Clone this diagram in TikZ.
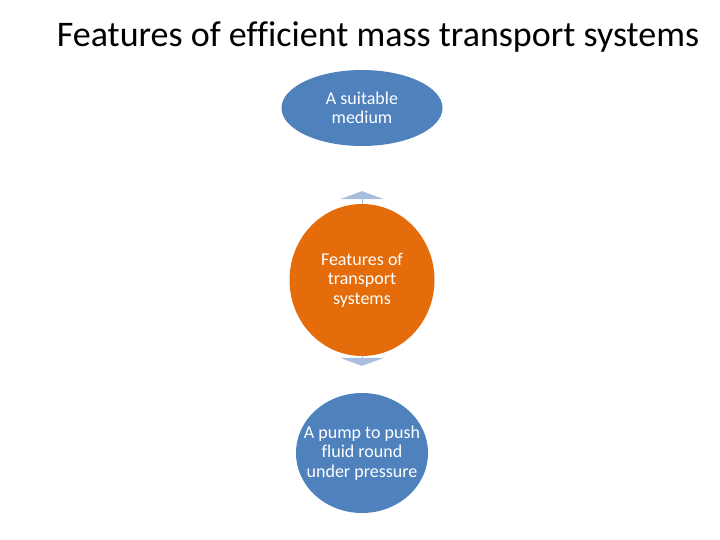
\documentclass[tikz,border=0pt]{standalone}
\usepackage{fontspec}
\setmainfont{Carlito}[Ligatures=NoCommon]
\usepackage{xcolor}
\usetikzlibrary{shapes,arrows.meta,positioning,backgrounds}
\definecolor{accblue}{HTML}{4F81BD}
\definecolor{accorange}{HTML}{E46C0A}
\definecolor{linkblue}{HTML}{A9BEDF}
\tikzset{
    bubble/.style={ellipse, fill=accblue, text=white, align=center, inner sep=-30pt, font=\fontsize{18}{19.5}\selectfont},
    hub/.style={bubble, fill=accorange},
    link/.style={line width=1pt, draw=linkblue, -{Triangle[width=44pt,length=8pt]}}}

\begin{document}
\begin{tikzpicture}[x=1pt,y=-1pt]
\useasboundingbox (0,0) rectangle (720,540);

\node[font=\fontsize{36}{42}\selectfont] (title) at (378,37) {Features of efficient mass transport systems};
\node[bubble, minimum width=161pt, minimum height=76pt] (medium) at (362,108) {A suitable\\medium};
\node[hub, minimum width=145pt, minimum height=152pt] (hub) at (362,280) {Features of\\transport\\systems};
\node[bubble, minimum width=132pt, minimum height=120pt] (pump) at (362,453) {A pump to push\\fluid round\\under pressure};

% arrows mostly hidden behind the hub
\begin{scope}[on background layer]
\draw[link, shorten >=45pt] (hub.center) -- (medium);
\draw[link, shorten >=27pt] (hub.center) -- (pump);
\end{scope}
\end{tikzpicture}
\end{document}
